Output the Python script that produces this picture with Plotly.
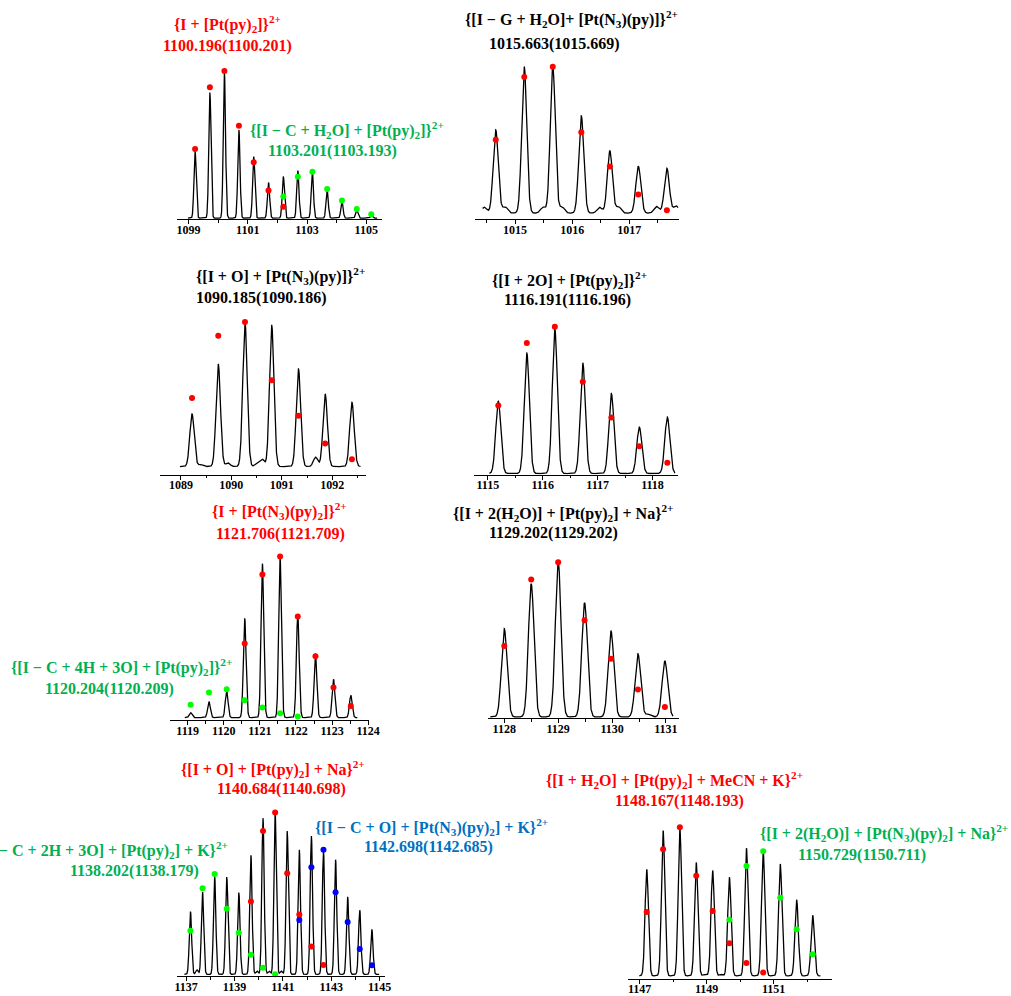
import numpy as np
import plotly.graph_objects as go

W, H = 1011, 996

# ---------------- data: peak m/z and relative intensity (%) ----------------
# Panel 1  {I + [Pt(py)2]}2+
p1_mz = [1099.22, 1099.72, 1100.21, 1100.70, 1101.20, 1101.70, 1102.20, 1102.69, 1103.18, 1103.68, 1104.18, 1104.68, 1105.17]
p1_int = [45.8, 86.3, 100.0, 60.6, 42.3, 24.5, 28.6, 32.7, 32.0, 19.0, 11.4, 5.3, 1.6]
p1_red_mz = [1099.22, 1099.72, 1100.21, 1100.70, 1101.20, 1101.70, 1102.20]
p1_red_int = [47.4, 89.9, 101.1, 63.4, 38.4, 19.0, 7.8]
p1_green_mz = [1102.20, 1102.69, 1103.18, 1103.68, 1104.18, 1104.68, 1105.17]
p1_green_int = [14.9, 28.4, 31.8, 19.9, 12.1, 6.2, 2.7]

# Panel 2  {[I - G + H2O] + [Pt(N3)(py)]}2+
p2_mz = [1014.66, 1015.16, 1015.66, 1016.16, 1016.66, 1017.16, 1017.66]
p2_int = [56.6, 99.5, 100.0, 66.1, 42.3, 31.7, 30.5]
p2_minor_mz = [1014.46, 1014.82, 1015.49, 1015.82, 1016.48, 1016.81, 1017.48, 1017.82]
p2_minor_int = [4.0, 4.5, 4.0, 4.5, 4.0, 4.5, 4.5, 5.0]
p2_red_mz = [1014.66, 1015.16, 1015.66, 1016.16, 1016.66, 1017.16, 1017.66]
p2_red_int = [49.8, 92.5, 99.5, 55.0, 31.7, 12.7, 2.0]

# Panel 3  {[I + O] + [Pt(N3)(py)]}2+
p3_mz = [1089.22, 1089.74, 1090.27, 1090.80, 1091.33, 1091.86, 1092.39]
p3_int = [36.5, 71.1, 100.0, 97.9, 67.7, 50.3, 44.6]
p3_minor_mz = [1089.39, 1089.93, 1090.51, 1090.61, 1091.67]
p3_minor_int = [1.5, 2.5, 2.0, 5.0, 6.5]
p3_red_mz = [1089.22, 1089.74, 1090.27, 1090.80, 1091.33, 1091.86, 1092.39]
p3_red_int = [47.6, 90.8, 100.2, 59.8, 35.3, 15.9, 5.1]

# Panel 4  {[I + 2O] + [Pt(py)2]}2+
p4_mz = [1115.19, 1115.71, 1116.22, 1116.73, 1117.25, 1117.76, 1118.27]
p4_int = [49.9, 83.2, 100.0, 76.3, 55.2, 32.0, 38.9]
p4_red_mz = [1115.19, 1115.71, 1116.22, 1116.73, 1117.25, 1117.76, 1118.27]
p4_red_int = [46.9, 90.1, 101.4, 63.4, 38.6, 18.9, 7.4]

# Panel 5  {I + [Pt(N3)(py)2]}2+  and  {[I - C + 4H + 3O] + [Pt(py)2]}2+
p5_mz = [1119.08, 1119.59, 1120.08, 1120.58, 1121.07, 1121.56, 1122.05, 1122.54, 1123.04, 1123.52]
p5_int = [3.1, 9.9, 16.5, 61.6, 95.5, 100.0, 64.0, 39.7, 23.8, 13.8]
p5_red_mz = [1120.58, 1121.07, 1121.56, 1122.05, 1122.54, 1123.04, 1123.52]
p5_red_int = [45.9, 88.8, 100.0, 62.8, 38.0, 18.6, 7.2]
p5_green_mz = [1119.08, 1119.59, 1120.08, 1120.58, 1121.07, 1121.56, 1122.05]
p5_green_int = [7.9, 15.5, 17.6, 10.7, 6.2, 2.7, 0.6]

# Panel 6  {[I + 2(H2O)] + [Pt(py)2] + Na}2+
p6_mz = [1128.00, 1128.50, 1129.00, 1129.49, 1129.98, 1130.48, 1130.98]
p6_int = [56.3, 84.9, 100.0, 72.8, 54.8, 40.3, 35.7]
p6_minor_mz = [1130.67]
p6_minor_int = [1.7]
p6_red_mz = [1128.00, 1128.50, 1129.00, 1129.49, 1129.98, 1130.48, 1130.98]
p6_red_int = [45.2, 87.7, 98.7, 61.6, 37.2, 17.6, 6.4]

# Panel 7  Na / K adducts
p7_mz = [1137.18, 1137.68, 1138.18, 1138.68, 1139.18, 1139.68, 1140.18, 1140.68,
         1141.18, 1141.68, 1142.18, 1142.68, 1143.18, 1143.68, 1144.18, 1144.68]
p7_int = [38.6, 50.6, 60.2, 59.8, 50.2, 73.1, 95.9, 100.0, 88.0, 76.5, 84.9, 75.5, 70.4, 47.6, 39.4, 27.6]
p7_minor_mz = [1137.45, 1139.93, 1140.43, 1140.93]
p7_minor_int = [2.7, 2.0, 2.0, 2.0]
p7_green_mz = [1137.18, 1137.68, 1138.18, 1138.68, 1139.18, 1139.68, 1140.18, 1140.68]
p7_green_int = [26.7, 52.9, 61.6, 40.2, 25.5, 12.0, 4.1, 0.0]
p7_red_mz = [1139.68, 1140.18, 1140.68, 1141.18, 1141.68, 1142.18, 1142.68]
p7_red_int = [44.7, 88.0, 99.4, 62.0, 36.7, 17.1, 5.7]
p7_blue_mz = [1141.68, 1142.18, 1142.68, 1143.18, 1143.68, 1144.18, 1144.68]
p7_blue_int = [33.3, 65.7, 76.5, 50.4, 32.2, 15.5, 5.5]

# Panel 8  MeCN/K and Na adducts
p8_mz = [1147.21, 1147.70, 1148.20, 1148.69, 1149.18, 1149.68, 1150.19, 1150.69, 1151.20, 1151.69, 1152.17]
p8_int = [71.7, 97.8, 100.0, 76.2, 70.9, 66.4, 85.9, 84.3, 75.3, 51.1, 40.8]
p8_minor_mz = [1148.95, 1149.43]
p8_minor_int = [1.0, 1.0]
p8_red_mz = [1147.21, 1147.70, 1148.20, 1148.69, 1149.18, 1149.68, 1150.19, 1150.69]
p8_red_int = [43.0, 85.2, 100.0, 67.3, 43.7, 22.0, 8.7, 2.2]
p8_green_mz = [1149.68, 1150.19, 1150.69, 1151.20, 1151.69, 1152.17]
p8_green_int = [37.7, 74.0, 83.9, 52.5, 31.4, 14.6]

# ---------------- labels ----------------
RED, GREEN, BLUE, BLACK = "#ff0000", "#00b050", "#0070c0", "#000000"
DOT_RED, DOT_GREEN, DOT_BLUE = "#ff0000", "#00ff00", "#0000ff"

labels = [
    ("{I + [Pt(py)<sub>2</sub>]}<sup>2+</sup>", RED, 228, 24, "center"),
    ("1100.196(1100.201)", RED, 228, 46, "center"),
    ("{[I − C + H<sub>2</sub>O] + [Pt(py)<sub>2</sub>]}<sup>2+</sup>", GREEN, 349, 130, "center"),
    ("1103.201(1103.193)", GREEN, 334.5, 151, "center"),
    ("{[I − G + H<sub>2</sub>O]+ [Pt(N<sub>3</sub>)(py)]}<sup>2+</sup>", BLACK, 577, 19, "center"),
    ("1015.663(1015.669)", BLACK, 560, 44, "center"),
    ("{[I + O] + [Pt(N<sub>3</sub>)(py)]}<sup>2+</sup>", BLACK, 195, 276, "left"),
    ("1090.185(1090.186)", BLACK, 195, 298.5, "left"),
    ("{[I + 2O] + [Pt(py)<sub>2</sub>]}<sup>2+</sup>", BLACK, 575, 280, "center"),
    ("1116.191(1116.196)", BLACK, 573, 300, "center"),
    ("{I + [Pt(N<sub>3</sub>)(py)<sub>2</sub>]}<sup>2+</sup>", RED, 281.5, 512, "center"),
    ("1121.706(1121.709)", RED, 282.5, 535, "center"),
    ("{[I − C + 4H + 3O] + [Pt(py)<sub>2</sub>]}<sup>2+</sup>", GREEN, 121, 668, "center"),
    ("1120.204(1120.209)", GREEN, 109, 689.5, "center"),
    ("{[I + 2(H<sub>2</sub>O)] + [Pt(py)<sub>2</sub>] + Na}<sup>2+</sup>", BLACK, 568, 513.5, "center"),
    ("1129.202(1129.202)", BLACK, 559, 533.5, "center"),
    ("{[I + O] + [Pt(py)<sub>2</sub>] + Na}<sup>2+</sup>", RED, 275, 770, "center"),
    ("1140.684(1140.698)", RED, 283, 790, "center"),
    ("{[I − C + O] + [Pt(N<sub>3</sub>)(py)<sub>2</sub>] + K}<sup>2+</sup>", BLUE, 435, 828, "center"),
    ("1142.698(1142.685)", BLUE, 432, 848, "center"),
    ("{[I − C + 2H + 3O] + [Pt(py)<sub>2</sub>] + K}<sup>2+</sup>", GREEN, 231, 851, "right"),
    ("1138.202(1138.179)", GREEN, 134, 872, "center"),
    ("{[I + H<sub>2</sub>O] + [Pt(py)<sub>2</sub>] + MeCN + K}<sup>2+</sup>", RED, 681, 781, "center"),
    ("1148.167(1148.193)", RED, 686, 802, "center"),
    ("{[I + 2(H<sub>2</sub>O)] + [Pt(N<sub>3</sub>)(py)<sub>2</sub>] + Na}<sup>2+</sup>", GREEN, 1021, 834, "right"),
    ("1150.729(1150.711)", GREEN, 871, 856, "center"),
]

# ---------------- panel layout ----------------
panels = [
    dict(mz=p1_mz, inten=p1_int, mmz=[], mint=[], sigma=0.038, span=(1098.98, 1105.37),
         dots=[(DOT_RED, p1_red_mz, p1_red_int), (DOT_GREEN, p1_green_mz, p1_green_int)],
         px=(177.5, 384.5), xr=(1098.617, 1105.517), axis_y=219.3, hpk=145.7, off=1.0,
         tick0=1099, dtick=2, minor=1),
    dict(mz=p2_mz, inten=p2_int, mmz=p2_minor_mz, mint=p2_minor_int, sigma=0.044, span=(1014.43, 1017.855),
         dots=[(DOT_RED, p2_red_mz, p2_red_int)],
         px=(479, 686.3), xr=(1014.294, 1017.881), axis_y=219.3, hpk=147.3, off=6.0,
         tick0=1015, dtick=1, minor=0.5),
    dict(mz=p3_mz, inten=p3_int, mmz=p3_minor_mz, mint=p3_minor_int, sigma=0.044, span=(1088.98, 1092.56),
         dots=[(DOT_RED, p3_red_mz, p3_red_int)],
         px=(160, 369), xr=(1088.584, 1092.674), axis_y=475, hpk=144.3, off=8.0,
         tick0=1089, dtick=1, minor=0.5),
    dict(mz=p4_mz, inten=p4_int, mmz=[], mint=[], sigma=0.046, span=(1115.03, 1118.41),
         dots=[(DOT_RED, p4_red_mz, p4_red_int)],
         px=(478, 685.3), xr=(1114.745, 1118.473), axis_y=475, hpk=145.0, off=1.0,
         tick0=1115, dtick=1, minor=0.5),
    dict(mz=p5_mz, inten=p5_int, mmz=[], mint=[], sigma=0.038, span=(1118.92, 1123.70),
         dots=[(DOT_RED, p5_red_mz, p5_red_int), (DOT_GREEN, p5_green_mz, p5_green_int)],
         px=(170, 371.7), xr=(1118.505, 1124.021), axis_y=721, hpk=161.3, off=2.7,
         tick0=1119, dtick=1, minor=0.5),
    dict(mz=p6_mz, inten=p6_int, mmz=p6_minor_mz, mint=p6_minor_int, sigma=0.052, span=(1127.74, 1131.13),
         dots=[(DOT_RED, p6_red_mz, p6_red_int)],
         px=(492, 685.7), xr=(1127.692, 1131.240), axis_y=719, hpk=157.0, off=1.3,
         tick0=1128, dtick=1, minor=0.5),
    dict(mz=p7_mz, inten=p7_int, mmz=p7_minor_mz, mint=p7_minor_int, sigma=0.049, span=(1136.93, 1144.98),
         dots=[(DOT_GREEN, p7_green_mz, p7_green_int), (DOT_RED, p7_red_mz, p7_red_int),
               (DOT_BLUE, p7_blue_mz, p7_blue_int)],
         px=(177, 388), xr=(1136.612, 1145.224), axis_y=977, hpk=163.0, off=1.7,
         tick0=1137, dtick=2, minor=1),
    dict(mz=p8_mz, inten=p8_int, mmz=p8_minor_mz, mint=p8_minor_int, sigma=0.05, span=(1146.99, 1152.40),
         dots=[(DOT_RED, p8_red_mz, p8_red_int), (DOT_GREEN, p8_green_mz, p8_green_int)],
         px=(634, 840.7), xr=(1146.646, 1152.743), axis_y=979.5, hpk=148.7, off=2.7,
         tick0=1147, dtick=2, minor=1),
]

BOX = 200.0  # plot box height in px

fig = go.Figure()
layout_axes = {}
for i, p in enumerate(panels, start=1):
    xa = "x" if i == 1 else f"x{i}"
    ya = "y" if i == 1 else f"y{i}"
    # profile spectrum built from the peak list
    x = np.linspace(p["span"][0], p["span"][1], 2500)
    y = np.zeros_like(x)
    for m, h in zip(list(p["mz"]) + list(p["mmz"]), list(p["inten"]) + list(p["mint"])):
        y += h * np.exp(-0.5 * ((x - m) / p["sigma"]) ** 2)
    fig.add_trace(go.Scatter(x=x, y=y, mode="lines", line=dict(color="black", width=1.3),
                             xaxis=xa, yaxis=ya, showlegend=False, hoverinfo="skip"))
    for col, dmz, dint in p["dots"]:
        fig.add_trace(go.Scatter(x=dmz, y=dint, mode="markers",
                                 marker=dict(color=col, size=6, line=dict(width=0)),
                                 xaxis=xa, yaxis=ya, showlegend=False, cliponaxis=False))
    scale = 100.0 / p["hpk"]
    bottom = 1 - p["axis_y"] / H
    top = 1 - (p["axis_y"] - BOX) / H
    key_x = "xaxis" if i == 1 else f"xaxis{i}"
    key_y = "yaxis" if i == 1 else f"yaxis{i}"
    layout_axes[key_x] = dict(
        domain=[p["px"][0] / W, p["px"][1] / W], range=list(p["xr"]), anchor=ya,
        showline=True, linecolor="black", linewidth=1.3, mirror=False,
        ticks="outside", ticklen=4, tickwidth=1.2, tickcolor="black",
        tickmode="linear", tick0=p["tick0"], dtick=p["dtick"],
        ticklabelstandoff=-5,
        minor=dict(dtick=p["minor"], tick0=p["tick0"], ticks="outside", ticklen=2.5,
                   tickwidth=1, tickcolor="black", showgrid=False),
        showgrid=False, zeroline=False, fixedrange=True,
        tickfont=dict(family="Liberation Serif", size=12, color="black", weight="bold"),
    )
    layout_axes[key_y] = dict(
        domain=[bottom, top], range=[-p["off"] * scale, (BOX - p["off"]) * scale],
        anchor=xa, visible=False, fixedrange=True,
    )

annotations = []
for text, col, px_, py_, anch in labels:
    annotations.append(dict(
        text=text, x=px_ / W, y=1 - py_ / H, xref="paper", yref="paper",
        xanchor=anch, yanchor="middle", showarrow=False,
        font=dict(family="Liberation Serif", size=16, color=col, weight="bold"),
    ))

fig.update_layout(
    width=W, height=H, margin=dict(l=0, r=0, t=0, b=0),
    paper_bgcolor="white", plot_bgcolor="white",
    annotations=annotations, showlegend=False,
    **layout_axes,
)

fig.write_html("out.html", config={"displayModeBar": False},
               post_script="document.body.style.margin='0px';")
